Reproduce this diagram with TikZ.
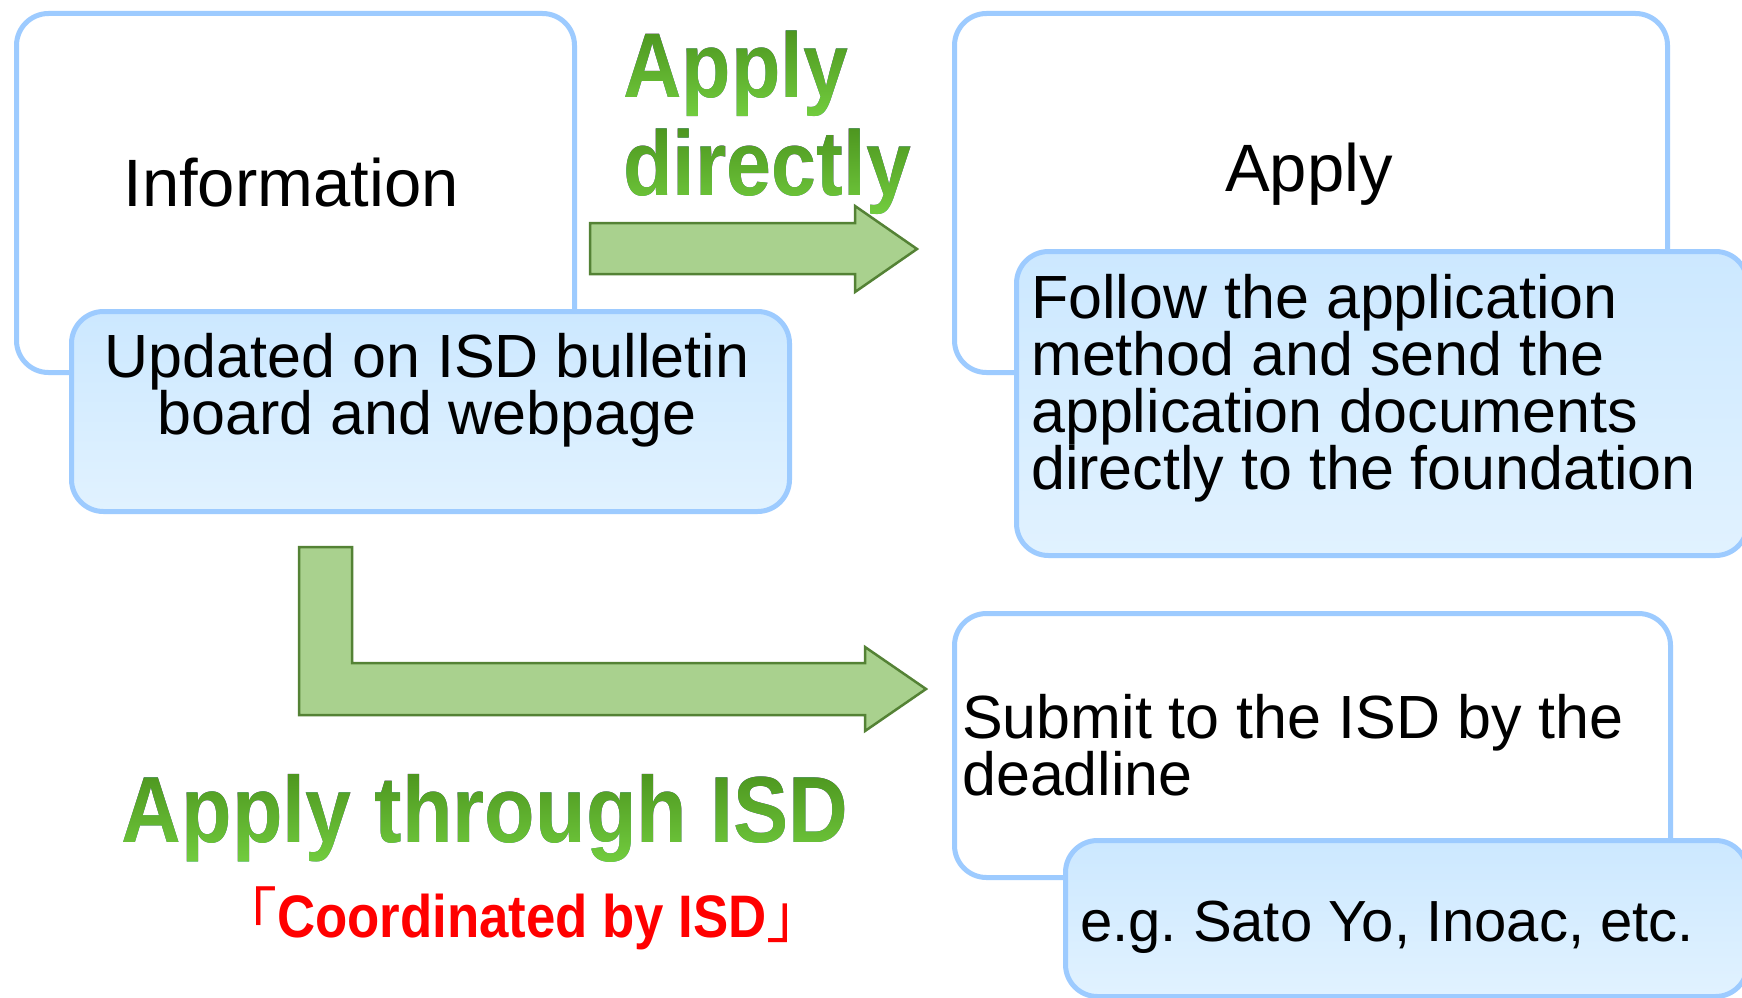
\documentclass[tikz,border=0pt]{standalone}
\usepackage{fontspec}
\setmainfont{Liberation Sans}
\newfontfamily\narrowbold{Liberation Sans}[FakeStretch=0.88]
\newfontfamily\cjk{Noto Sans CJK JP}
\definecolor{boxline}{HTML}{9DCBFF}
\definecolor{filltop}{HTML}{CCE8FF}
\definecolor{fillbot}{HTML}{E1F2FF}
\definecolor{arrowfill}{HTML}{A9D18E}
\definecolor{arrowline}{HTML}{548235}
\definecolor{gdark}{HTML}{3A7A0F}
\definecolor{gbright}{HTML}{74CF40}
\definecolor{gpale}{HTML}{E4F5DA}
\definecolor{isdred}{HTML}{FF0000}
\pgfdeclareverticalshading{gtext}{100bp}{color(0bp)=(gpale); color(23bp)=(gbright); color(100bp)=(gdark)}
\newcommand\tstrut{\rule[-18pt]{0pt}{68pt}}
\newcommand\tightlines{\lineskiplimit=-100pt\relax}
\tikzset{
  whitebox/.style={draw=boxline, line width=5pt, fill=white, rounded corners=32pt, anchor=north west, inner sep=0pt},
  bluebox/.style={draw=boxline, line width=5pt, top color=filltop, bottom color=fillbot, rounded corners=32pt, anchor=north west, inner sep=0pt},
  blockarrow/.style={fill=arrowfill, draw=arrowline, line width=2.5pt, line join=miter},
  titletext/.style={inner sep=0pt, font=\fontsize{67}{67}\selectfont},
  bodytext/.style={inner sep=0pt, font=\fontsize{61}{57}\selectfont\tightlines},
  smalltext/.style={inner sep=0pt, font=\fontsize{58}{57}\selectfont},
  greenhead/.style={inner sep=0pt, text=black, font=\narrowbold\bfseries\fontsize{92}{92}\selectfont},
  greenbig/.style={inner sep=0pt, text=black, font=\narrowbold\bfseries\fontsize{94}{94}\selectfont},
  redtext/.style={inner sep=0pt, text=isdred, font=\narrowbold\bfseries\fontsize{60}{60}\selectfont}
}
\begin{document}
\begin{tikzpicture}[x=1pt, y=-1pt]
\useasboundingbox (0,0) rectangle (1742,998);
\fill[white] (0,0) rectangle (1742,998);

% green headings (black text, coloured by a lighten overlay)
\node[greenhead, anchor=base west] (ad1) at (623,97) {Apply};
\node[greenhead, anchor=base west] (ad2) at (623,195) {directly};
\node[greenbig, anchor=base] (ati) at (485,842) {Apply through ISD};
\begin{scope}[blend mode=lighten]
  \shade[shading=gtext] (612,29) rectangle (935,117);
  \shade[shading=gtext] (612,127) rectangle (935,215);
  \shade[shading=gtext] (105,772) rectangle (865,863);
\end{scope}
\node[redtext, anchor=base] (coord) at (522,937) {{\cjk\mdseries 「}Coordinated by ISD{\cjk\mdseries 」}};

% left column
\node[whitebox, minimum width=558pt, minimum height=359pt] (info) at (14,11) {};
\node[titletext, anchor=base] (infotxt) at (291,206) {Information};
\node[bluebox, minimum width=718pt, minimum height=200pt] (upd) at (69,309) {};
\node[bodytext, align=center, anchor=north] (updtxt) at (427,327) {\tstrut Updated on ISD bulletin\\board and webpage};

% right top
\node[whitebox, minimum width=713pt, minimum height=359pt] (apply) at (952,11) {};
\node[titletext, anchor=base] (applytxt) at (1309,191) {Apply};
\node[bluebox, minimum width=731pt, minimum height=304pt] (follow) at (1014,249) {};
\node[bodytext, align=left, anchor=north west] (followtxt) at (1031,268) {\tstrut Follow the application\\method and send the\\application documents\\directly to the foundation};

% right bottom
\node[whitebox, minimum width=716pt, minimum height=264pt] (submit) at (952,611) {};
\node[bodytext, align=left, anchor=north west] (submittxt) at (962,688) {\tstrut Submit to the ISD by the\\deadline};
\node[bluebox, minimum width=682pt, minimum height=156pt] (eg) at (1063,838) {};
\node[smalltext, anchor=base west] (egtxt) at (1080,941) {e.g.\ Sato Yo, Inoac, etc.};

% block arrows
\draw[blockarrow] (590,223) -- (855,223) -- (855,206) -- (917,249) -- (855,292) -- (855,274) -- (590,274) -- cycle;
\draw[blockarrow] (299,547) -- (352,547) -- (352,663) -- (865,663) -- (865,647) -- (926,689) -- (865,731) -- (865,715) -- (299,715) -- cycle;
\end{tikzpicture}
\end{document}
